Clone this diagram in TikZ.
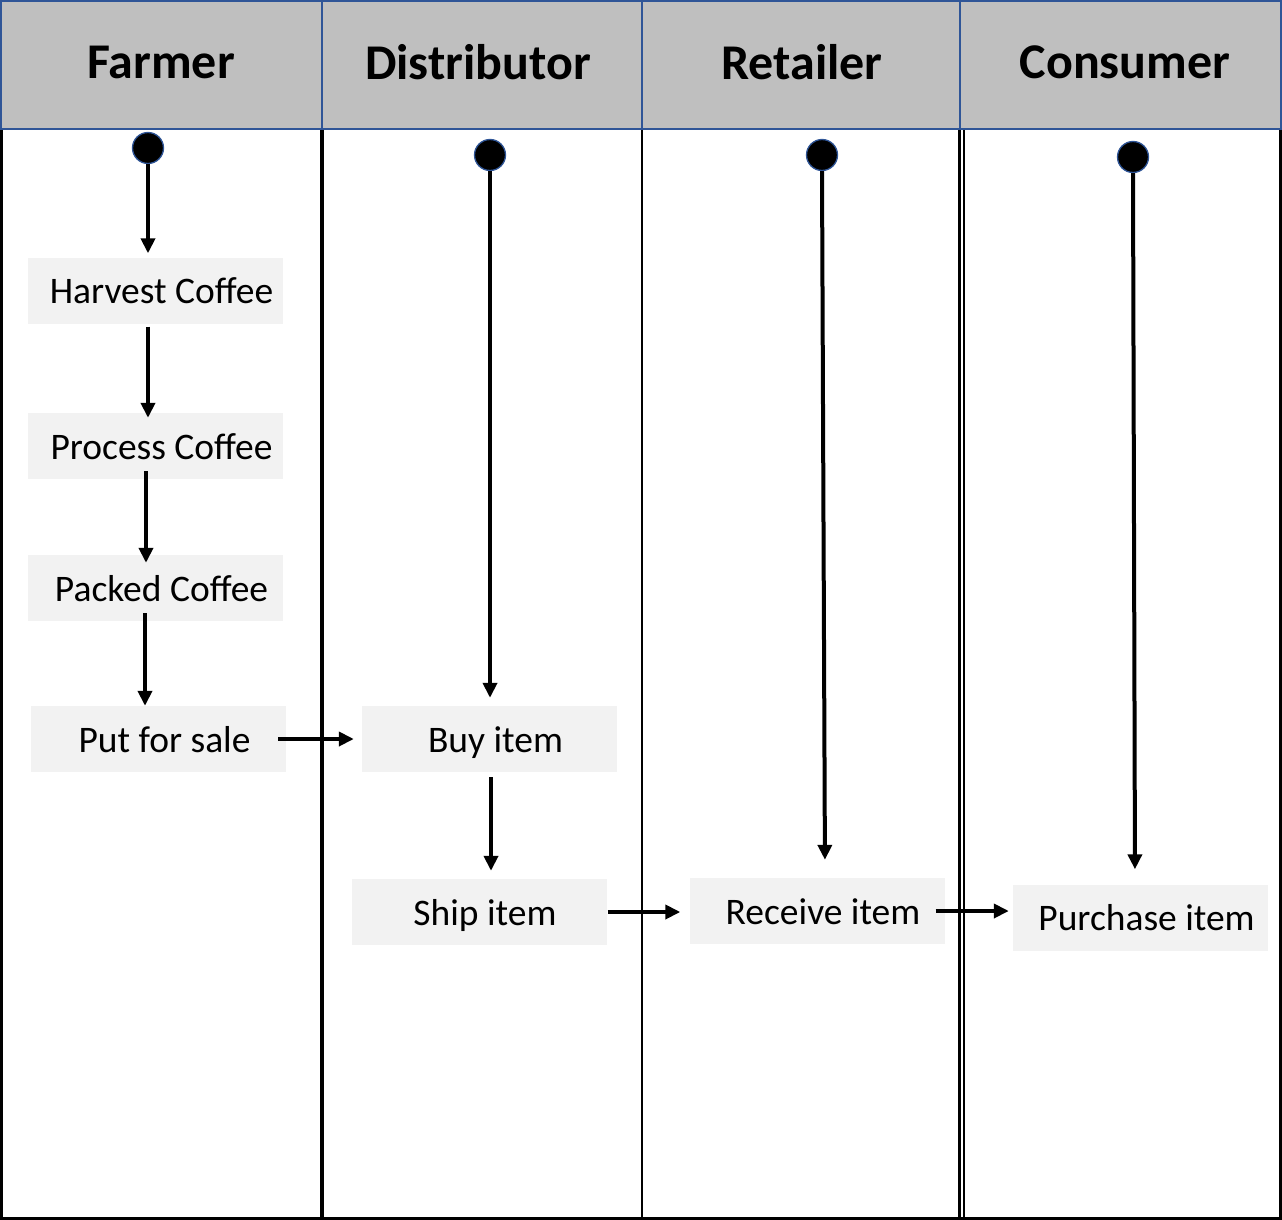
\documentclass[tikz,border=0pt]{standalone}
\usepackage{fontspec}
\setmainfont{Carlito}
\usetikzlibrary{arrows.meta}
\definecolor{hdr}{HTML}{BFBFBF}
\definecolor{hblue}{HTML}{2F5597}
\definecolor{boxfill}{HTML}{F2F2F2}
\tikzset{
  act/.style={fill=boxfill, minimum width=255pt, minimum height=66pt, inner sep=0pt,
    text height=30pt, text depth=4pt,
    font=\fontsize{37.5}{40}\selectfont, execute at begin node={\hspace*{12pt}}},
  startdot/.style={circle, fill=black, draw=hblue, line width=1.3pt, minimum size=31pt, inner sep=0pt},
  flow/.style={-{Triangle[length=15pt,width=14pt]}, line width=4pt},
  lane/.style={line width=3.5pt},
  hdrtext/.style={font=\bfseries\fontsize{50}{54}\selectfont}
}
\begin{document}
\begin{tikzpicture}[x=1pt,y=-1pt]
\useasboundingbox (0,0) rectangle (1282,1220);
% header
\fill[hdr] (0,0) rectangle (1282,129);
\draw[hblue, line width=2pt] (1,1) rectangle (1281,129);
\draw[hblue, line width=2pt] (322,1) -- (322,129) (642,1) -- (642,129) (960,1) -- (960,129);
\node[hdrtext] (hfarmer) at (161,62) {Farmer};
\node[hdrtext] (hdist) at (478,62) {Distributor};
\node[hdrtext] (hret) at (802,62) {Retailer};
\node[hdrtext] (hcons) at (1125,62) {Consumer};
% lanes
\draw[lane] (1.5,130) -- (1.5,1218.5) -- (1280.5,1218.5) -- (1280.5,130);
\draw[lane] (322,130) -- (322,1218);
\draw[line width=2.8pt] (642,130) -- (642,1218);
\draw[line width=2.2pt] (959.5,130) -- (959.5,1218) (964,130) -- (964,1218);
% start dots
\node[startdot] (s1) at (148,148) {};
\node[startdot] (s2) at (490,155) {};
\node[startdot] (s3) at (822,155) {};
\node[startdot] (s4) at (1133,157) {};
% activities
\node[act] (harvest) at (155.5,290.5) {Harvest Coffee};
\node[act] (process) at (155.5,446) {Process Coffee};
\node[act] (packed) at (155.5,588) {Packed Coffee};
\node[act] (sale) at (158.5,739) {Put for sale};
\node[act] (buy) at (489.5,739) {Buy item};
\node[act] (ship) at (479,912) {Ship item};
\node[act] (receive) at (817,911) {Receive item};
\node[act] (purchase) at (1140.5,917.5) {Purchase item};
% flows
\draw[flow, shorten >=4pt] (s1.south) -- (s1.south |- harvest.north);
\draw[flow, shorten <=3pt, shorten >=-5pt] (harvest.south -| s1) -- (process.north -| s1);
\draw[flow, shorten <=-8pt, shorten >=-8pt] ([xshift=-2pt]process.south -| s1) -- ([xshift=-2pt]packed.north -| s1);
\draw[flow, shorten <=-8pt, shorten >=0pt] ([xshift=-3pt]packed.south -| s1) -- ([xshift=-3pt]sale.north -| s1);
\draw[flow, shorten <=-8pt, shorten >=8pt] (sale.east) -- (buy.west);
\draw[flow, shorten >=8pt] (s2.south) -- (s2.south |- buy.north);
\draw[flow, shorten <=5pt, shorten >=8pt] ([xshift=1pt]buy.south -| s2) -- ([xshift=1pt]ship.north -| s2);
\draw[flow, shorten <=1pt, shorten >=9pt] (ship.east) -- (ship.east -| receive.west);
\draw[flow, shorten >=18pt] (s3.south) -- ([xshift=3pt]s3.south |- receive.north);
\draw[flow, shorten <=-9pt, shorten >=4pt] (receive.east) -- (receive.east -| purchase.west);
\draw[flow, shorten >=15pt] (s4.south) -- ([xshift=2pt]s4.south |- purchase.north);
\end{tikzpicture}
\end{document}
